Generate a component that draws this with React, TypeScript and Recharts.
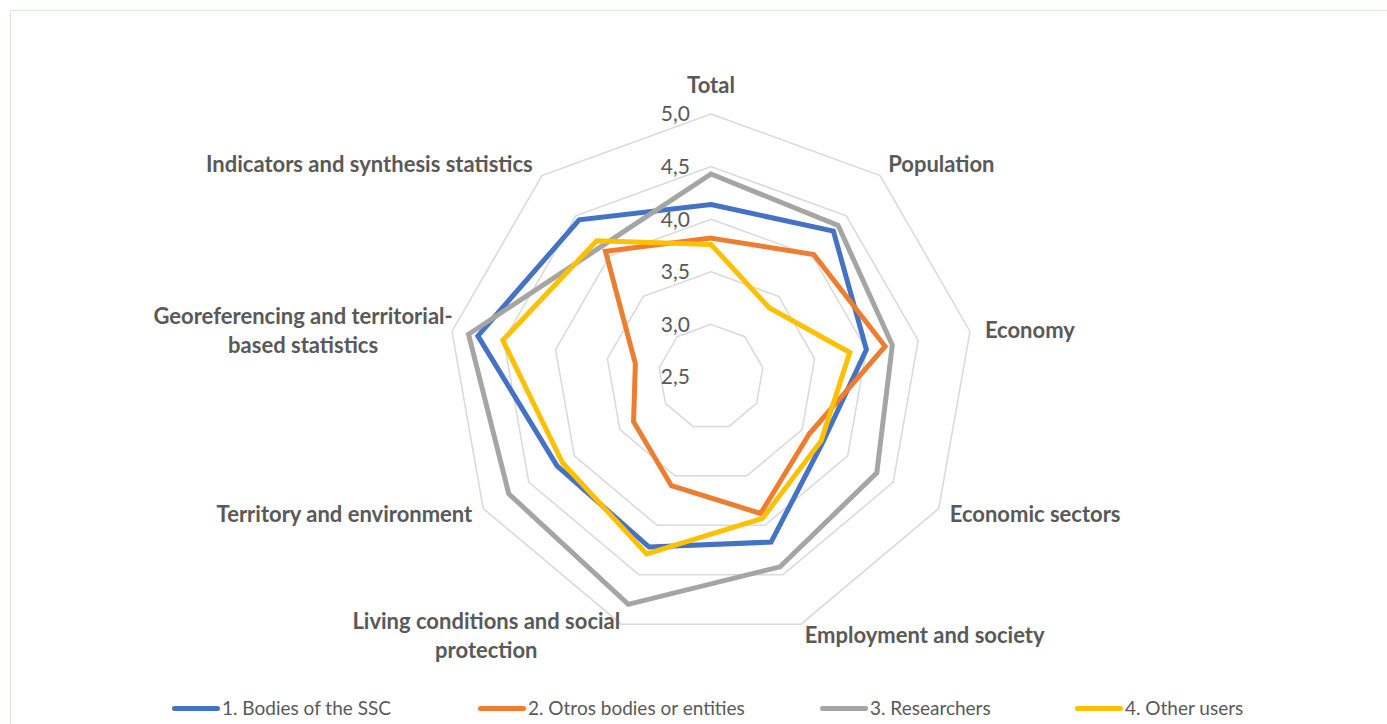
import { RadarChart, Radar, PolarGrid, PolarAngleAxis, PolarRadiusAxis } from 'recharts';

// Categories, clockwise from the top
const categories = [
  'Total',
  'Population',
  'Economy',
  'Economic sectors',
  'Employment and society',
  'Living conditions and social protection',
  'Territory and environment',
  'Georeferencing and territorial-based statistics',
  'Indicators and synthesis statistics',
];

const bodiesSSC = [4.14, 4.31, 4.0, 3.73, 4.17, 4.22, 4.19, 4.75, 4.45];
const otherBodies = [3.82, 4.02, 4.18, 3.58, 3.88, 3.6, 3.35, 3.23, 4.06];
const researchers = [4.43, 4.38, 4.25, 4.32, 4.42, 4.8, 4.72, 4.84, 4.12];
const otherUsers = [3.76, 3.36, 3.84, 3.71, 3.93, 4.29, 4.13, 4.51, 4.19];

const seriesNames = [
  '1. Bodies of the SSC',
  '2. Otros bodies or entities',
  '3. Researchers',
  '4. Other users',
];

const radiusTicks = [2.5, 3, 3.5, 4, 4.5, 5];

const data = categories.map((category, i) => ({
  category,
  ssc: bodiesSSC[i],
  bodies: otherBodies[i],
  researchers: researchers[i],
  users: otherUsers[i],
}));

const series = [
  { key: 'ssc', name: seriesNames[0], color: '#4472C4', legendLeft: 172 },
  { key: 'bodies', name: seriesNames[1], color: '#ED7D31', legendLeft: 478 },
  { key: 'researchers', name: seriesNames[2], color: '#A5A5A5', legendLeft: 820 },
  { key: 'users', name: seriesNames[3], color: '#FFC000', legendLeft: 1075 },
];

const FONT = 'Lato, "Open Sans", sans-serif';
const TEXT = '#595959';

// label nudges and line breaks (Excel places these a bit off the plain polar position)
const labelLayout: Record<string, { dx: number; dy: number; anchor?: string; lines?: string[] }> = {
  'Total': { dx: 0, dy: -21 },
  'Population': { dx: 3, dy: -5 },
  'Economy': { dx: 7, dy: 0 },
  'Economic sectors': { dx: 4, dy: 2 },
  'Employment and society': { dx: 1, dy: 4 },
  'Living conditions and social protection': {
    dx: -132, dy: -10, anchor: 'middle', lines: ['Living conditions and social', 'protection'],
  },
  'Territory and environment': { dx: -4, dy: 2 },
  'Georeferencing and territorial-based statistics': {
    dx: -141, dy: -14, anchor: 'middle', lines: ['Georeferencing and territorial-', 'based statistics'],
  },
  'Indicators and synthesis statistics': { dx: -4, dy: -5 },
};

const AngleTick = (props: any) => {
  const { x, y, payload, textAnchor } = props;
  const label = String(payload.value);
  const lay = labelLayout[label] ?? { dx: 0, dy: 0 };
  const lines = lay.lines ?? [label];
  return (
    <text
      x={x + lay.dx}
      y={y + lay.dy}
      textAnchor={lay.anchor ?? textAnchor}
      fill={TEXT}
      fontFamily={FONT}
      fontWeight={700}
      fontSize={22}
    >
      {lines.map((line, i) => (
        <tspan key={i} x={x + lay.dx} dy={i === 0 ? '0.35em' : 29}>
          {line}
        </tspan>
      ))}
    </text>
  );
};

const RadiusTick = (props: any) => {
  const { x, y, payload } = props;
  return (
    <text
      x={x - 21}
      y={y}
      dy="0.35em"
      textAnchor="end"
      fill={TEXT}
      fontFamily={FONT}
      fontSize={21}
    >
      {Number(payload.value).toFixed(1).replace('.', ',')}
    </text>
  );
};

export default function App() {
  return (
    <div
      style={{
        position: 'fixed',
        left: 0,
        top: 0,
        width: 1387,
        height: 724,
        overflow: 'hidden',
        background: '#fff',
      }}
    >
      {/* chart frame */}
      <div
        style={{
          position: 'absolute',
          left: 10,
          top: 10,
          width: 1400,
          height: 740,
          border: '1px solid #dbe9d3',
        }}
      />
      <div style={{ position: 'absolute', left: 0, top: 0 }}>
        <RadarChart
          width={1387}
          height={724}
          data={data}
          cx={711}
          cy={377}
          outerRadius={263}
          margin={{ top: 0, right: 0, bottom: 0, left: 0 }}
        >
          <PolarGrid gridType="polygon" radialLines={false} stroke="#d9d9d9" strokeWidth={1.5} />
          <PolarAngleAxis dataKey="category" tick={AngleTick} tickLine={false} axisLine={false} />
          <PolarRadiusAxis
            angle={90}
            type="number"
            domain={[radiusTicks[0], radiusTicks[radiusTicks.length - 1]]}
            ticks={radiusTicks as any}
            tickCount={radiusTicks.length}
            allowDecimals
            axisLine={false}
            tickLine={false}
            tick={RadiusTick}
          />
          {series.map((s) => (
            <Radar
              key={s.key}
              name={s.name}
              dataKey={s.key}
              stroke={s.color}
              strokeWidth={5}
              fill="none"
              fillOpacity={0}
              dot={false}
              isAnimationActive={false}
            />
          ))}
        </RadarChart>
        {/* legend */}
        {series.map((s) => (
          <div
            key={s.key}
            style={{
              position: 'absolute',
              left: s.legendLeft,
              top: 697,
              height: 22,
              display: 'flex',
              alignItems: 'center',
              whiteSpace: 'nowrap',
              fontFamily: FONT,
              fontSize: 19,
              lineHeight: '22px',
              color: TEXT,
            }}
          >
            <span
              style={{
                display: 'inline-block',
                width: 48,
                height: 5,
                borderRadius: 3,
                background: s.color,
                marginRight: 2,
              }}
            />
            <span>{s.name}</span>
          </div>
        ))}
      </div>
    </div>
  );
}
